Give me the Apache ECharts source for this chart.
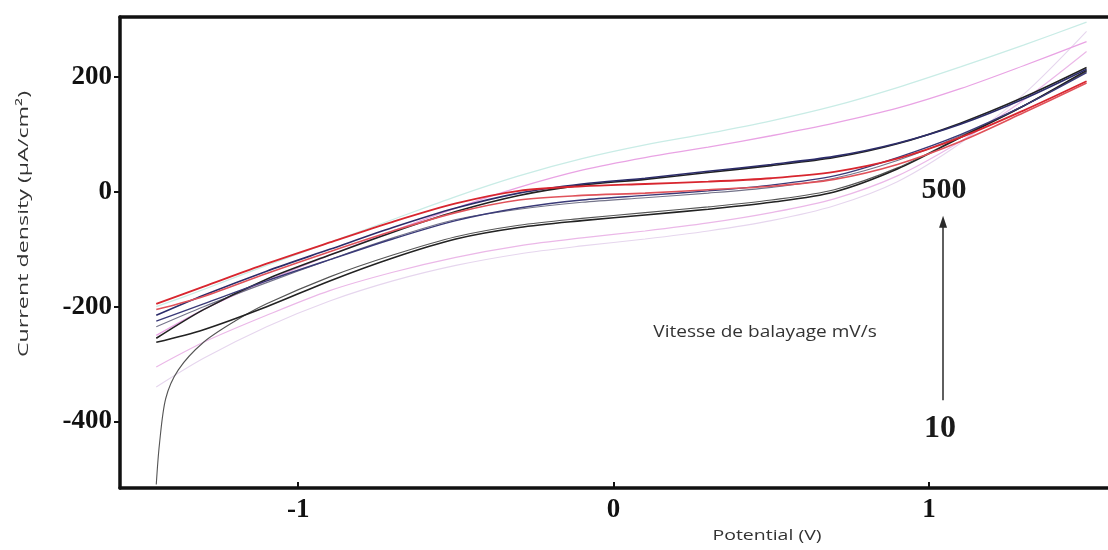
<!DOCTYPE html>
<html>
<head>
<meta charset="utf-8">
<script src="https://cdn.jsdelivr.net/npm/echarts@6/dist/echarts.min.js"></script>
<style>
  html, body { margin: 0; padding: 0; background: #ffffff; }
  #chart { width: 1108px; height: 550px; }
</style>
</head>
<body>
<div id="chart"></div>
<script>
// Potential grid (V) shared by most sweeps
const potential = [-1.45, -1.3, -1.1, -0.9, -0.7, -0.5, -0.3, -0.1, 0.1, 0.3, 0.5, 0.7, 0.9, 1.1, 1.3, 1.5];
// Finer grid for the sweep with the steep cathodic tail
const potentialTail = [-1.45, -1.44, -1.42, -1.38, -1.3, -1.2, -1.1, -0.9, -0.7, -0.5, -0.3, -0.1, 0.1, 0.3, 0.5, 0.7, 0.9, 1.1, 1.3, 1.5];

// Current density (µA/cm²), upper and lower branch of each cycle
const redUpper   = [-195, -165, -125, -88, -52, -20, 2, 10, 14, 18, 24, 35, 58, 95, 142, 193];
const redLower   = [-205, -182, -142, -104, -68, -36, -14, -6, -2, 4, 10, 22, 48, 88, 138, 190];
const navyUpper  = [-215, -180, -138, -100, -62, -28, -2, 14, 24, 36, 48, 62, 85, 118, 162, 214];
const navyLower  = [-225, -195, -155, -118, -82, -50, -28, -14, -6, 2, 12, 28, 60, 100, 150, 208];
const blackUpper = [-255, -205, -152, -110, -70, -34, -6, 12, 22, 34, 46, 60, 84, 120, 165, 217];
const blackLower = [-262, -240, -200, -155, -115, -82, -62, -50, -40, -30, -18, 0, 40, 95, 150, 212];
const greyUpper  = [-235, -200, -158, -118, -80, -48, -30, -18, -10, -2, 8, 24, 55, 98, 150, 210];
const greyLower  = [-510, -440, -360, -310, -262, -225, -195, -148, -110, -78, -58, -46, -36, -26, -14, 4, 42, 96, 150, 210];
const pinkUpper  = [-250, -205, -155, -110, -68, -28, 8, 38, 60, 78, 98, 120, 146, 180, 220, 262];
const pinkLower  = [-305, -262, -215, -172, -140, -114, -94, -80, -68, -54, -36, -12, 28, 88, 160, 245];
const cyanUpper  = [-200, -170, -128, -88, -48, -8, 28, 58, 82, 102, 124, 150, 182, 218, 256, 296];
const cyanLower  = [-340, -290, -235, -190, -155, -128, -108, -94, -82, -68, -50, -24, 18, 85, 170, 280];

// Axis ticks
const xTicks = [-1, 0, 1];
const yTicks = [-400, -200, 0, 200];

// Scan-rate arrow (V, µA/cm²)
const arrowX = 1.045;
const arrowFrom = -363;
const arrowTo = -52;

function pairs(xs, ys) { return xs.map((x, i) => [x, ys[i]]); }

function branch(name, xs, ys, color, width, z) {
  return {
    name: name,
    type: 'line',
    data: pairs(xs, ys),
    showSymbol: false,
    smooth: 0.3,
    silent: true,
    z: z,
    lineStyle: { color: color, width: width }
  };
}

const series = [
  branch('500 mV/s', potential, cyanUpper, '#c9ece6', 1.3, 2),
  branch('500 mV/s', potential, cyanLower, '#e6d6ee', 1.1, 2),
  branch('200 mV/s', potential, pinkUpper, '#e9a3e4', 1.3, 3),
  branch('200 mV/s', potential, pinkLower, '#ebb8e8', 1.2, 3),
  branch('100 mV/s', potential, greyUpper, '#74748a', 1.1, 4),
  branch('100 mV/s', potentialTail, greyLower, '#555555', 1.1, 4),
  branch('50 mV/s', potential, blackUpper, '#222222', 1.6, 5),
  branch('50 mV/s', potential, blackLower, '#222222', 1.6, 5),
  branch('20 mV/s', potential, navyUpper, '#2c2c6a', 1.6, 6),
  branch('20 mV/s', potential, navyLower, '#3a3a78', 1.4, 6),
  branch('10 mV/s', potential, redUpper, '#d8262f', 1.9, 7),
  branch('10 mV/s', potential, redLower, '#e0525a', 1.6, 7)
];

// Arrow indicating increasing scan rate
series.push({
  type: 'line',
  data: [],
  silent: true,
  markLine: {
    silent: true,
    symbol: ['none', 'triangle'],
    symbolSize: [8, 12],
    label: { show: false },
    lineStyle: { color: '#2a2a2a', width: 1.5, type: 'solid' },
    data: [[{ coord: [arrowX, arrowFrom] }, { coord: [arrowX, arrowTo] }]]
  }
});

const serifLabel = {
  fontFamily: 'Liberation Serif',
  fontWeight: 'bold',
  fontSize: 27,
  color: '#111111'
};

const chart = echarts.init(document.getElementById('chart'), null, { renderer: 'canvas' });

chart.setOption({
  animation: false,
  backgroundColor: '#ffffff',
  grid: { left: 120, right: 0, top: 17, bottom: 62 },
  xAxis: [
    {
      type: 'value',
      position: 'bottom',
      min: -1.565,
      max: 1.568,
      axisLine: { show: true, onZero: false, lineStyle: { color: '#111111', width: 3.5 } },
      axisTick: { show: true, inside: true, length: 6, customValues: xTicks, lineStyle: { color: '#111111', width: 2 } },
      axisLabel: Object.assign({ customValues: xTicks, margin: 9 }, serifLabel),
      splitLine: { show: false }
    },
    {
      type: 'value',
      position: 'top',
      min: -1.565,
      max: 1.568,
      axisLine: { show: true, onZero: false, lineStyle: { color: '#111111', width: 3.5 } },
      axisTick: { show: false },
      axisLabel: { show: false },
      splitLine: { show: false }
    }
  ],
  yAxis: {
    type: 'value',
    min: -516,
    max: 305,
    axisLine: { show: true, onZero: false, lineStyle: { color: '#111111', width: 3.5 } },
    axisTick: { show: true, inside: false, length: 6, customValues: yTicks, lineStyle: { color: '#111111', width: 2 } },
    axisLabel: Object.assign({ customValues: yTicks, margin: 8 }, serifLabel),
    splitLine: { show: false }
  },
  series: series,
  graphic: [
    {
      type: 'text',
      x: 24, y: 224,
      rotation: Math.PI / 2,
      scaleX: 1.55,
      style: {
        text: 'Current density (µA/cm²)',
        font: '15px "Open Sans"',
        fill: '#333333',
        align: 'center',
        verticalAlign: 'middle'
      }
    },
    {
      type: 'text',
      x: 767, y: 536,
      scaleX: 1.3,
      style: {
        text: 'Potential (V)',
        font: '15px "Open Sans"',
        fill: '#333333',
        align: 'center',
        verticalAlign: 'middle'
      }
    },
    {
      type: 'text',
      x: 765, y: 332,
      scaleX: 1.12,
      style: {
        text: 'Vitesse de balayage mV/s',
        font: '17px "Open Sans"',
        fill: '#333333',
        align: 'center',
        verticalAlign: 'middle'
      }
    },
    {
      type: 'text',
      x: 944, y: 190,
      style: {
        text: '500',
        font: 'bold 30px "Liberation Serif"',
        fill: '#1a1a1a',
        align: 'center',
        verticalAlign: 'middle'
      }
    },
    {
      type: 'text',
      x: 940, y: 429,
      style: {
        text: '10',
        font: 'bold 32px "Liberation Serif"',
        fill: '#1a1a1a',
        align: 'center',
        verticalAlign: 'middle'
      }
    }
  ]
});
</script>
</body>
</html>
